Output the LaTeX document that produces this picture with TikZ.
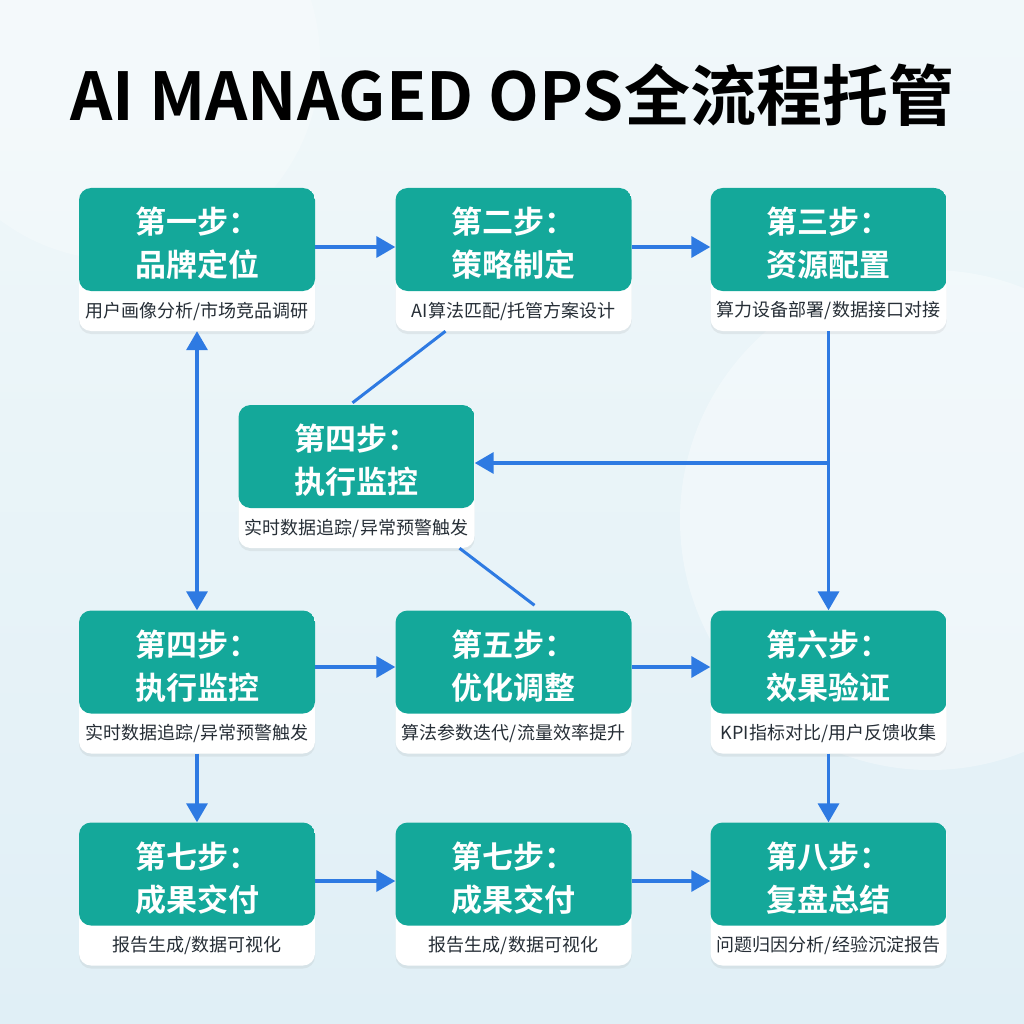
\documentclass[tikz,border=0pt]{standalone}
\usepackage{fontspec}
\setmainfont{Noto Sans CJK SC}[BoldFont={Noto Sans CJK SC Bold}]
\usetikzlibrary{arrows.meta,shadows,calc}
\definecolor{tealbox}{RGB}{20,168,154}
\definecolor{arrowblue}{RGB}{46,122,226}
\definecolor{bgtop}{RGB}{241,248,250}
\definecolor{bgbot}{RGB}{224,239,246}
\definecolor{subtext}{RGB}{38,46,54}
\tikzset{
  stepcard/.style={draw=none, fill=white, rounded corners=12pt,
    minimum width=236pt, minimum height=143pt, inner sep=0pt,
    drop shadow={opacity=0.12, shadow xshift=0pt, shadow yshift=-3pt},
    path picture={\fill[tealbox] (path picture bounding box.north west)
      rectangle ([yshift=40pt]path picture bounding box.south east);}},
  steptitle/.style={text=white, font=\bfseries\fontsize{31}{31}\selectfont, inner sep=0pt},
  stepsub/.style={text=subtext, font=\fontsize{18}{18}\selectfont, inner sep=0pt},
  flow/.style={draw=arrowblue, line width=3.5pt, -{Triangle[length=19pt,width=21pt]}},
  flowboth/.style={draw=arrowblue, line width=3.5pt, {Triangle[length=19pt,width=21pt]}-{Triangle[length=19pt,width=21pt]}},
  link/.style={draw=arrowblue, line width=3pt},
  heading/.style={text=black, font=\bfseries\fontsize{66}{66}\selectfont, inner sep=0pt}
}
\newcommand\stepnode[6]{%
  \node[stepcard] (#1) at (#2,#3) {};
  \node[steptitle] (#1-a) at ([yshift=37.5pt]#1.center) {#4};
  \node[steptitle] (#1-b) at ([yshift=-5.5pt]#1.center) {#5};
  \node[stepsub] (#1-c) at ([yshift=-51.5pt]#1.center) {#6};
}
\begin{document}
\begin{tikzpicture}[x=1pt,y=-1pt]
  \useasboundingbox (0,0) rectangle (1024,1024);
  \shade[top color=bgtop, bottom color=bgbot] (0,0) rectangle (1024,1024);
  \begin{scope}
    \clip (0,0) rectangle (1024,1024);
    \fill[white, opacity=0.35] (930,520) circle (250pt);
    \fill[white, opacity=0.25] (120,60) circle (200pt);
  \end{scope}

  \node[heading] (title) at (512,95) {AI MANAGED OPS全流程托管};

  \stepnode{b1}{197}{259.5}{第一步：}{品牌定位}{用户画像分析/市场竞品调研}
  \stepnode{b2}{513.5}{259.5}{第二步：}{策略制定}{AI算法匹配/托管方案设计}
  \stepnode{b3}{828.5}{259.5}{第三步：}{资源配置}{算力设备部署/数据接口对接}
  \stepnode{b4m}{356.5}{476.5}{第四步：}{执行监控}{实时数据追踪/异常预警触发}
  \stepnode{b4}{197}{682}{第四步：}{执行监控}{实时数据追踪/异常预警触发}
  \stepnode{b5}{513.5}{682}{第五步：}{优化调整}{算法参数迭代/流量效率提升}
  \stepnode{b6}{828.5}{682}{第六步：}{效果验证}{KPI指标对比/用户反馈收集}
  \stepnode{b7}{197}{894}{第七步：}{成果交付}{报告生成/数据可视化}
  \stepnode{b7b}{513.5}{894}{第七步：}{成果交付}{报告生成/数据可视化}
  \stepnode{b8}{828.5}{894}{第八步：}{复盘总结}{问题归因分析/经验沉淀报告}

  % row 1
  \draw[flow] ([yshift=12.5pt]b1.east) -- ([yshift=12.5pt]b2.west);
  \draw[flow] ([yshift=12.5pt]b2.east) -- ([yshift=12.5pt]b3.west);
  % right column
  \draw[flow] (b3.south) -- (b6.north);
  \coordinate (j) at (828.5,463);
  \draw[flow] (j) -- (b4m.east |- j);
  % diagonal links
  \draw[link] ([xshift=-68pt]b2.south) -- ([xshift=-4pt,yshift=2pt]b4m.north);
  \draw[link] ([xshift=103pt]b4m.south) -- ([xshift=21pt,yshift=5pt]b5.north);
  % left column
  \draw[flowboth] (b1.south) -- (b4.north);
  % row 2
  \draw[flow] ([yshift=15pt]b4.east) -- ([yshift=15pt]b5.west);
  \draw[flow] ([yshift=15pt]b5.east) -- ([yshift=15pt]b6.west);
  % down
  \draw[flow] (b4.south) -- (b7.north);
  \draw[flow] (b6.south) -- (b8.north);
  % row 3
  \draw[flow] ([yshift=13pt]b7.east) -- ([yshift=13pt]b7b.west);
  \draw[flow] ([yshift=13pt]b7b.east) -- ([yshift=13pt]b8.west);
\end{tikzpicture}
\end{document}
